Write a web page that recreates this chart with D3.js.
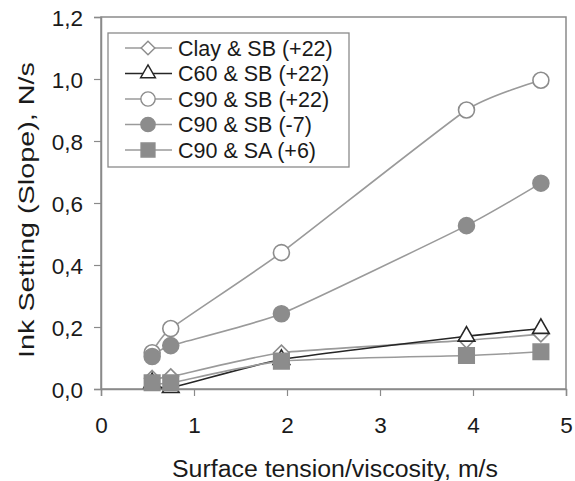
<!DOCTYPE html>
<html>
<head>
<meta charset="utf-8">
<script src="https://cdn.jsdelivr.net/npm/d3@7"></script>
<style>
  body { margin: 0; background: #fff; }
  svg text { font-family: "Liberation Sans", Arial, sans-serif; fill: #1a1a1a; }
</style>
</head>
<body>
<div id="chart"></div>
<script>
//////////////////////////////////////////////////////////////
///////////////////////// Data ///////////////////////////////
//////////////////////////////////////////////////////////////

var xValues = [0.55, 0.75, 1.94, 3.93, 4.73];

var seriesNames = ["Clay & SB (+22)", "C60 & SB (+22)", "C90 & SB (+22)", "C90 & SB (-7)", "C90 & SA (+6)"];

var clayPlus22 = [0.035, 0.04, 0.117, 0.157, 0.177];
var c60Plus22  = [0.02, 0.004, 0.095, 0.17, 0.195];
var c90Plus22  = [0.117, 0.195, 0.44, 0.90, 0.996];
var c90Minus7  = [0.105, 0.14, 0.243, 0.527, 0.664];
var c90SAPlus6 = [0.02, 0.02, 0.09, 0.108, 0.12];

var xTicks = [0, 1, 2, 3, 4, 5];
var yTicks = [0, 0.2, 0.4, 0.6, 0.8, 1.0, 1.2];

//////////////////////////////////////////////////////////////
/////////////////////// Settings /////////////////////////////
//////////////////////////////////////////////////////////////

var width = 575, height = 481;
var plot = {left: 101, right: 566, top: 17, bottom: 389};

var grey = "#8c8c8c";
var lineGrey = "#9a9a9a";
var dark = "#262626";

// one style per series, same order as the names
var styles = [
  {symbol: d3.symbolDiamond2, size: 150, fill: "#fff", stroke: grey, line: lineGrey},
  {symbol: d3.symbolTriangle, size: 120, fill: "#fff", stroke: dark, line: dark},
  {symbol: d3.symbolCircle, size: 200, fill: "#fff", stroke: grey, line: lineGrey},
  {symbol: d3.symbolCircle, size: 200, fill: grey, stroke: grey, line: lineGrey},
  {symbol: d3.symbolSquare, size: 240, fill: grey, stroke: grey, line: lineGrey}
];

var allSeries = [clayPlus22, c60Plus22, c90Plus22, c90Minus7, c90SAPlus6].map(function(vals, i) {
  return {name: seriesNames[i], style: styles[i],
          points: vals.map(function(v, j) { return {x: xValues[j], y: v}; })};
});

//////////////////////////////////////////////////////////////
//////////////////////// Scales //////////////////////////////
//////////////////////////////////////////////////////////////

var xScale = d3.scaleLinear().domain([0, 5]).range([plot.left, plot.right]);
var yScale = d3.scaleLinear().domain([0, 1.2]).range([plot.bottom, plot.top]);

var svg = d3.select("#chart").append("svg")
    .attr("width", width)
    .attr("height", height);

// frame around the plot
svg.append("rect")
    .attr("x", plot.left).attr("y", plot.top)
    .attr("width", plot.right - plot.left)
    .attr("height", plot.bottom - plot.top)
    .attr("fill", "none")
    .attr("stroke", "#8a8a8a")
    .attr("stroke-width", 1.5);

var xAxis = d3.axisBottom(xScale).tickValues(xTicks).tickSize(7).tickPadding(21)
    .tickFormat(d3.format("d"));
var yAxis = d3.axisLeft(yScale).tickValues(yTicks).tickSize(7).tickPadding(11)
    .tickFormat(function(d) { return d3.format(".1f")(d).replace(".", ","); });

var gx = svg.append("g")
    .attr("transform", "translate(0," + plot.bottom + ")")
    .call(xAxis);
var gy = svg.append("g")
    .attr("transform", "translate(" + plot.left + ",0)")
    .call(yAxis);

[gx, gy].forEach(function(g) {
  g.select(".domain").attr("stroke", "#8a8a8a").attr("stroke-width", 1.5);
  g.selectAll(".tick line").attr("stroke", "#8a8a8a").attr("stroke-width", 1.2);
  g.selectAll(".tick text").style("font-size", "22.5px").attr("fill", "#1a1a1a")
    .style("font-family", "'Liberation Sans', Arial, sans-serif");
});
gy.selectAll(".tick text").attr("dy", "0.36em");

// axis titles
svg.append("text")
    .attr("x", 172)
    .attr("y", 477)
    .attr("textLength", 326)
    .attr("lengthAdjust", "spacingAndGlyphs")
    .style("font-size", "23px")
    .text("Surface tension/viscosity, m/s");

svg.append("text")
    .attr("transform", "translate(34,358) rotate(-90)")
    .attr("textLength", 296)
    .attr("lengthAdjust", "spacingAndGlyphs")
    .style("font-size", "22px")
    .text("Ink Setting (Slope), N/s");

//////////////////////////////////////////////////////////////
//////////////////////// Series //////////////////////////////
//////////////////////////////////////////////////////////////

var line = d3.line()
    .x(function(d) { return xScale(d.x); })
    .y(function(d) { return yScale(d.y); })
    .curve(d3.curveCardinal.tension(0.5));

svg.selectAll(".seriesLine")
    .data(allSeries).enter()
    .append("path")
      .attr("class", "seriesLine")
      .attr("d", function(d) { return line(d.points); })
      .attr("fill", "none")
      .attr("stroke", function(d) { return d.style.line; })
      .attr("stroke-width", 1.6);

var markerGroups = svg.selectAll(".markers")
    .data(allSeries).enter()
    .append("g")
      .attr("class", "markers");

markerGroups.selectAll("path")
    .data(function(d) { return d.points.map(function(p) { return {p: p, s: d.style}; }); })
    .enter().append("path")
      .attr("transform", function(d) { return "translate(" + xScale(d.p.x) + "," + yScale(d.p.y) + ")"; })
      .attr("d", function(d) { return d3.symbol().type(d.s.symbol).size(d.s.size)(); })
      .attr("fill", function(d) { return d.s.fill; })
      .attr("stroke", function(d) { return d.s.stroke; })
      .attr("stroke-width", 1.6);

//////////////////////////////////////////////////////////////
//////////////////////// Legend //////////////////////////////
//////////////////////////////////////////////////////////////

var legend = svg.append("g").attr("class", "legend");

legend.append("rect")
    .attr("x", 108).attr("y", 33)
    .attr("width", 241).attr("height", 134)
    .attr("fill", "#fff")
    .attr("stroke", "#8a8a8a")
    .attr("stroke-width", 1.3);

var rows = legend.selectAll(".legendRow")
    .data(allSeries).enter()
    .append("g")
      .attr("class", "legendRow")
      .attr("transform", function(d, i) { return "translate(0," + (48 + i * 25.5) + ")"; });

rows.append("line")
    .attr("x1", 125).attr("x2", 172)
    .attr("stroke", function(d) { return d.style.line; })
    .attr("stroke-width", 1.6);

rows.append("path")
    .attr("transform", "translate(148,0)")
    .attr("d", function(d) { return d3.symbol().type(d.style.symbol).size(d.style.size * 0.8)(); })
    .attr("fill", function(d) { return d.style.fill; })
    .attr("stroke", function(d) { return d.style.stroke; })
    .attr("stroke-width", 1.4);

rows.append("text")
    .attr("x", 178)
    .attr("dy", "0.36em")
    .style("font-size", "21.5px")
    .text(function(d) { return d.name; });
</script>
</body>
</html>
